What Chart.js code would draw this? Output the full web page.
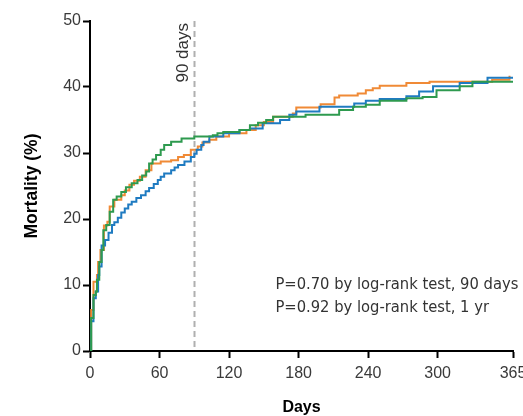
<!DOCTYPE html>
<html>
<head>
<meta charset="utf-8">
<script src="https://cdn.jsdelivr.net/npm/chart.js@4/dist/chart.umd.min.js"></script>
<style>
  html, body { margin: 0; padding: 0; background: #fff; overflow: hidden; }
  #wrap { width: 523px; height: 416px; position: relative; }
</style>
</head>
<body>
<div id="wrap"><canvas id="c"></canvas></div>
<script>
// ---- Data ----
const xTicks = [0, 60, 120, 180, 240, 300, 365];
const yTicks = [0, 10, 20, 30, 40, 50];

const orangeDays = [0, 1, 3, 6, 7, 9, 12, 15, 17, 21, 27, 30, 34, 38, 43, 48, 53, 61, 70, 76, 81, 87, 93, 97, 103, 109, 120, 135, 143, 150, 158, 175, 178, 199, 211, 215, 231, 238, 244, 250, 273, 293, 347, 362];
const orangePct  = [0, 6.2, 10.5, 11.5, 13.5, 15.3, 19, 19.6, 21.9, 22.9, 23.6, 24.3, 25.2, 25.8, 26.4, 27.4, 28.4, 28.7, 28.9, 29.4, 29.7, 30.5, 31, 31.6, 32, 32.5, 33, 33.5, 34.2, 34.7, 35.5, 36, 36.9, 37.4, 38.4, 38.7, 39, 39.5, 39.8, 40.2, 40.6, 40.8, 41.1, 41.7];

const greenDays = [0, 1, 3, 5, 6, 8, 10, 11.5, 14, 17, 20, 23, 27, 31, 36, 41, 45, 48.5, 51, 54, 57, 61, 64, 70, 79, 90, 106, 110, 115, 129, 138, 145, 152, 158, 186, 215, 227, 238, 250, 273, 287, 299, 319, 330, 365];
const greenPct  = [0, 5, 8.5, 9, 10.8, 13.5, 15.3, 18.3, 19.1, 21.1, 22.9, 23.4, 24.1, 24.8, 25.4, 25.9, 26.6, 27.2, 28.4, 29, 29.7, 30.5, 31.2, 31.7, 32.2, 32.5, 32.7, 33, 33.2, 33.5, 34.2, 34.6, 35, 35.5, 35.8, 36.5, 37, 37.3, 37.9, 38.3, 38.5, 39.5, 40.1, 40.8, 40.8];

const blueDays = [0, 1, 3, 5, 7, 8, 10, 13, 16, 19, 21, 24, 27, 30, 33, 36, 40, 44, 48, 51, 55, 58.5, 61, 64, 70, 73, 76, 81.5, 87, 90, 92, 96, 98, 103, 115, 129, 138, 149, 164, 172, 178, 198, 228, 238, 250, 273, 284, 296, 319, 343, 365];
const bluePct  = [0, 4.5, 8, 9, 11.5, 12.8, 16, 16.8, 17.9, 19.1, 19.5, 20.2, 21, 21.6, 22.2, 22.6, 23.2, 23.6, 24.2, 24.7, 25.3, 25.9, 26.4, 26.9, 27.4, 27.8, 28.2, 28.7, 29.4, 29.9, 30.5, 31.2, 31.7, 32.5, 33, 33.5, 33.7, 34.5, 35, 35.8, 36.3, 37, 37.5, 37.9, 38.2, 38.6, 39.3, 40.1, 40.6, 41.4, 41.4];

const markerDay = 90;
const markerLabel = '90 days';
const pTexts = ['P=0.70 by log-rank test, 90 days', 'P=0.92 by log-rank test, 1 yr'];

const toPts = (xs, ys) => xs.map((x, i) => ({ x: x, y: ys[i] }));

const annot = {
  id: 'annot',
  beforeDatasetsDraw(chart) {
    const { ctx, scales: { x, y } } = chart;
    const px = Math.round(x.getPixelForValue(markerDay)) + 0.5;
    ctx.save();
    ctx.strokeStyle = '#b0b0b0';
    ctx.lineWidth = 2;
    ctx.setLineDash([6, 4]);
    ctx.beginPath();
    ctx.moveTo(px, y.getPixelForValue(50));
    ctx.lineTo(px, y.getPixelForValue(0));
    ctx.stroke();
    ctx.restore();
  },
  afterDatasetsDraw(chart) {
    const { ctx, scales: { x, y } } = chart;
    const px = x.getPixelForValue(markerDay);
    ctx.save();
    ctx.fillStyle = '#333';
    ctx.font = '17px "Liberation Sans", Arial, sans-serif';
    ctx.translate(px - 11, y.getPixelForValue(50) + 2);
    ctx.rotate(-Math.PI / 2);
    ctx.textAlign = 'right';
    ctx.textBaseline = 'middle';
    ctx.fillText(markerLabel, 0, 0);
    ctx.restore();

    ctx.save();
    ctx.fillStyle = '#333';
    ctx.font = '16.4px "Liberation Sans Narrow", "DejaVu Sans Condensed", sans-serif';
    ctx.textAlign = 'left';
    ctx.textBaseline = 'middle';
    const tx = x.getPixelForValue(160);
    ctx.fillText(pTexts[0], tx, y.getPixelForValue(10));
    ctx.fillText(pTexts[1], tx, y.getPixelForValue(6.6));
    ctx.restore();
  }
};

const ds = (label, pts, color) => ({
  label, data: pts, borderColor: color, backgroundColor: color,
  borderWidth: 2, pointRadius: 0, stepped: 'before', fill: false, tension: 0
});

new Chart(document.getElementById('c'), {
  type: 'line',
  data: {
    datasets: [
      ds('Green', toPts(greenDays, greenPct), '#2e9a4f'),
      ds('Blue', toPts(blueDays, bluePct), '#1f7bc1'),
      ds('Orange', toPts(orangeDays, orangePct), '#f08a36')
    ]
  },
  options: {
    responsive: true,
    maintainAspectRatio: false,
    animation: false,
    layout: { padding: { top: 21, right: 0, bottom: 0, left: 0 } },
    plugins: { legend: { display: false }, tooltip: { enabled: false } },
    scales: {
      x: {
        type: 'linear', min: 0, max: 365,
        afterBuildTicks: (s) => { s.ticks = xTicks.map(v => ({ value: v })); },
        afterFit: (s) => { s.height = 65; s.paddingRight = 10; },
        grid: { drawOnChartArea: false, drawTicks: true, tickLength: 7, tickColor: '#000', tickWidth: 2 },
        border: { display: true, color: '#000', width: 2 },
        ticks: { color: '#3a3a3a', font: { family: '"Liberation Sans", Arial, sans-serif', size: 16 }, padding: 6, maxRotation: 0, autoSkip: false },
        title: { display: true, text: 'Days', color: '#000', font: { family: '"Liberation Sans", Arial, sans-serif', size: 16, weight: 'bold', lineHeight: 1.0 }, padding: { top: 0, bottom: 0 } }
      },
      y: {
        min: 0, max: 50,
        afterBuildTicks: (s) => { s.ticks = yTicks.map(v => ({ value: v })); },
        afterFit: (s) => { s.width = 90; },
        grid: { drawOnChartArea: false, drawTicks: true, tickLength: 7, tickColor: '#000', tickWidth: 2 },
        border: { display: true, color: '#000', width: 2 },
        ticks: { color: '#3a3a3a', font: { family: '"Liberation Sans", Arial, sans-serif', size: 16 }, padding: 2 },
        title: { display: true, text: 'Mortality (%)', color: '#000', font: { family: '"Liberation Sans", Arial, sans-serif', size: 17.5, weight: 'bold' }, padding: { top: 22, bottom: 0 } }
      }
    }
  },
  plugins: [annot]
});
</script>
</body>
</html>
